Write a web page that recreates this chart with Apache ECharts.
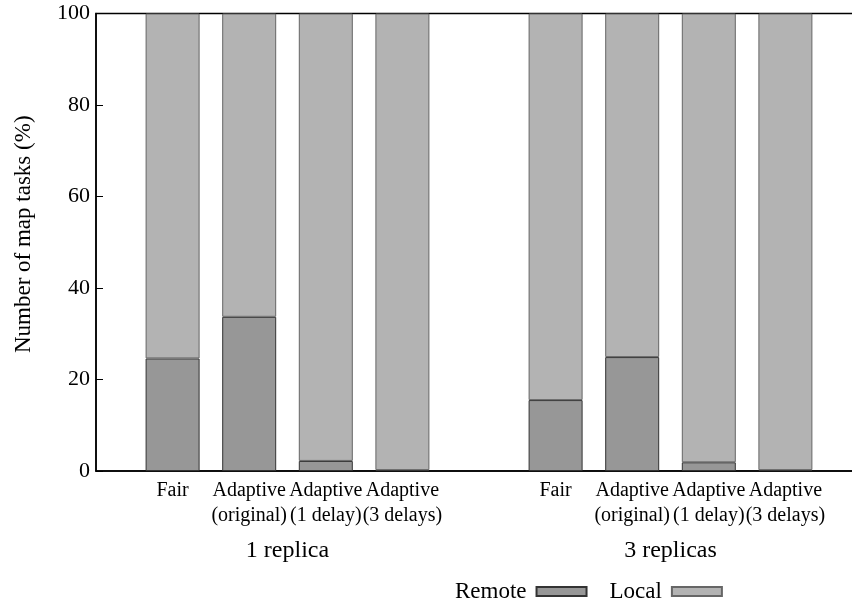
<!DOCTYPE html>
<html>
<head>
<meta charset="utf-8">
<script src="https://cdn.jsdelivr.net/npm/echarts@6/dist/echarts.min.js"></script>
<style>html,body{margin:0;padding:0;background:#fff}#c{width:852px;height:606px}</style>
</head>
<body>
<div id="c"></div>
<script>
const categories = ['', 'Fair', 'Adaptive\n(original)', 'Adaptive\n(1 delay)', 'Adaptive\n(3 delays)', '', 'Fair', 'Adaptive\n(original)', 'Adaptive\n(1 delay)', 'Adaptive\n(3 delays)', ''];
const groups = ['1 replica', '3 replicas'];
const remote = [null, 24.6, 33.7, 2.2, 0.2, null, 15.5, 24.9, 1.9, 0.2, null];
const local = [null, 75.4, 66.3, 97.8, 99.8, null, 84.5, 75.1, 98.1, 99.8, null];
const yTicks = [0, 20, 40, 60, 80, 100];

const FONT = 'Liberation Serif';
const chart = echarts.init(document.getElementById('c'));
chart.setOption({
  animation: false,
  textStyle: { fontFamily: FONT },
  grid: { left: 96, width: 766, top: 13.5, height: 457.5, show: true, borderColor: '#000', borderWidth: 1.5,
    backgroundColor: 'transparent', outerBoundsMode: 'none', containLabel: false },
  legend: {
    left: 455, top: 580, padding: 0, align: 'right', itemWidth: 50, itemHeight: 9, itemGap: 22,
    icon: 'rect',
    textStyle: { fontFamily: FONT, fontSize: 23, color: '#000', padding: [0, 5, 0, 0] },
    data: ['Remote', 'Local']
  },
  xAxis: [{
    type: 'category', data: categories, boundaryGap: false,
    axisLine: { lineStyle: { color: '#000', width: 1.5 } },
    axisTick: { show: false },
    axisLabel: { interval: 0, fontFamily: FONT, fontSize: 20, color: '#000', lineHeight: 25, margin: 7 }
  }, {
    type: 'category', data: groups, boundaryGap: true, position: 'bottom',
    axisLine: { show: false }, axisTick: { show: false },
    axisLabel: { fontFamily: FONT, fontSize: 24, color: '#000', margin: 68 }
  }],
  yAxis: {
    type: 'value', min: 0, max: 100, interval: 20,
    name: 'Number of map tasks (%)', nameLocation: 'middle', nameGap: 61,
    nameTextStyle: { fontFamily: FONT, fontSize: 23, color: '#000', padding: [0, 0, 0, 16] },
    axisLine: { show: true, lineStyle: { color: '#000', width: 1.5 } },
    axisTick: { show: true, inside: true, length: 7, lineStyle: { color: '#000' } },
    axisLabel: { fontFamily: FONT, fontSize: 22, color: '#000', margin: 6,
      formatter: v => yTicks.includes(v) ? String(v) : '' },
    splitLine: { show: false }
  },
  series: [{
    name: 'Remote', type: 'bar', stack: 's', data: remote, barWidth: 54, xAxisIndex: 0,
    itemStyle: { color: '#979797', borderColor: '#333', borderWidth: 1 }
  }, {
    name: 'Local', type: 'bar', stack: 's', data: local, barWidth: 54, xAxisIndex: 0,
    itemStyle: { color: '#b3b3b3', borderColor: '#666', borderWidth: 1 }
  }]
});
</script>
</body>
</html>
